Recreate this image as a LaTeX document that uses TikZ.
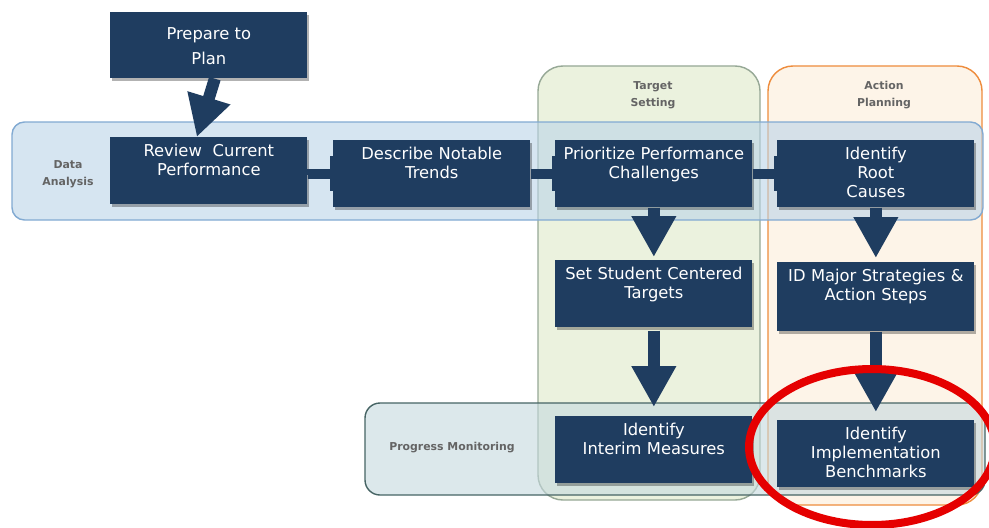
\documentclass[tikz,border=0pt]{standalone}
\usepackage{fontspec}
\setmainfont{DejaVu Sans}
\usepackage{tikz}
\usetikzlibrary{arrows.meta,shadows}
\definecolor{navy}{RGB}{31,61,96}
\definecolor{bandblue}{RGB}{187,212,233}
\definecolor{bandline}{RGB}{130,170,210}
\definecolor{progfill}{RGB}{197,217,222}
\definecolor{progline}{RGB}{70,100,100}
\definecolor{targfill}{RGB}{235,242,222}
\definecolor{targline}{RGB}{150,168,150}
\definecolor{actfill}{RGB}{253,244,232}
\definecolor{actline}{RGB}{238,140,60}
\definecolor{labgray}{RGB}{100,100,100}

\begin{document}
\begin{tikzpicture}[x=0.02cm, y=-0.02cm,
  stepbox/.style={fill=navy, text=white, inner sep=0pt, anchor=north west,
    text width=3.94cm, align=center, font=\fontsize{9.3}{10.8}\selectfont,
    text height=0.38cm, text depth=0.96cm,
    drop shadow={shadow xshift=0.04cm, shadow yshift=-0.05cm, opacity=0.3, fill=black}},
  bigarrow/.style={navy, line width=0.24cm, -{Triangle[width=0.84cm,length=0.82cm]}},
  link/.style={navy, line width=0.2cm, -{Rectangle[width=0.7cm,length=0.06cm]}},
  phase/.style={font=\fontsize{6.2}{9.6}\selectfont\bfseries, text=labgray, align=center}]

\fill[white] (0,0) rectangle (989,527);
\useasboundingbox (0,0) rectangle (989,527);

%phase panels
\draw[targline, thick, fill=targfill, rounded corners=0.5cm] (538,66) rectangle (760,500);
\draw[actline, thick, fill=actfill, rounded corners=0.5cm] (768,66) rectangle (982,505);
\draw[bandline, thick, fill=bandblue, fill opacity=0.6, rounded corners=0.25cm] (12,122) rectangle (983,220);
\draw[progline, thick, fill=progfill, fill opacity=0.6, rounded corners=0.3cm] (365,403) rectangle (985,495);

\node[phase] (lda) at (68,174) {Data\\Analysis};
\node[phase] (lts) at (653,95) {Target\\Setting};
\node[phase] (lap) at (884,95) {Action\\Planning};
\node[phase] (lpm) at (452,448) {Progress Monitoring};

%steps
\node[stepbox, text height=0.54cm, text depth=0.78cm, font=\fontsize{9.3}{14.2}\selectfont] (pre) at (110,12) {Prepare to\\Plan};
\node[stepbox] (rev) at (110,137) {Review\ \ Current\\Performance};
\node[stepbox] (dsc) at (333,140) {Describe Notable\\Trends};
\node[stepbox] (pri) at (555,140) {Prioritize Performance\\Challenges};
\node[stepbox] (roo) at (777,140) {Identify\\Root\\Causes};
\node[stepbox] (set) at (555,260) {Set Student Centered\\Targets};
\node[stepbox, text depth=1.0cm] (ids) at (777,262) {ID Major Strategies \&\\Action Steps};
\node[stepbox] (itm) at (555,416) {Identify\\Interim Measures};
\node[stepbox] (imp) at (777,420) {Identify\\Implementation\\Benchmarks};

%connectors
\draw[bigarrow] ([xshift=0.12cm]pre.south) -- ([xshift=-0.24cm]rev.north);
\draw[link] ([yshift=-0.08cm]rev.east) -- (rev.east |- dsc.west) -- (dsc.west);
\draw[link] (dsc.east) -- (pri.west);
\draw[link] (pri.east) -- (roo.west);
\draw[bigarrow] (pri.south) -- ([yshift=0.06cm]set.north);
\draw[bigarrow] (roo.south) -- ([yshift=0.08cm]ids.north);
\draw[bigarrow] ([yshift=-0.06cm]set.south) -- ([yshift=0.18cm]itm.north);
\draw[bigarrow] (ids.south) -- ([yshift=0.16cm]imp.north);

%highlight
\draw[red!90!black, line width=0.16cm] (872,447) ellipse [x radius=2.46cm, y radius=1.56cm];

\end{tikzpicture}
\end{document}
